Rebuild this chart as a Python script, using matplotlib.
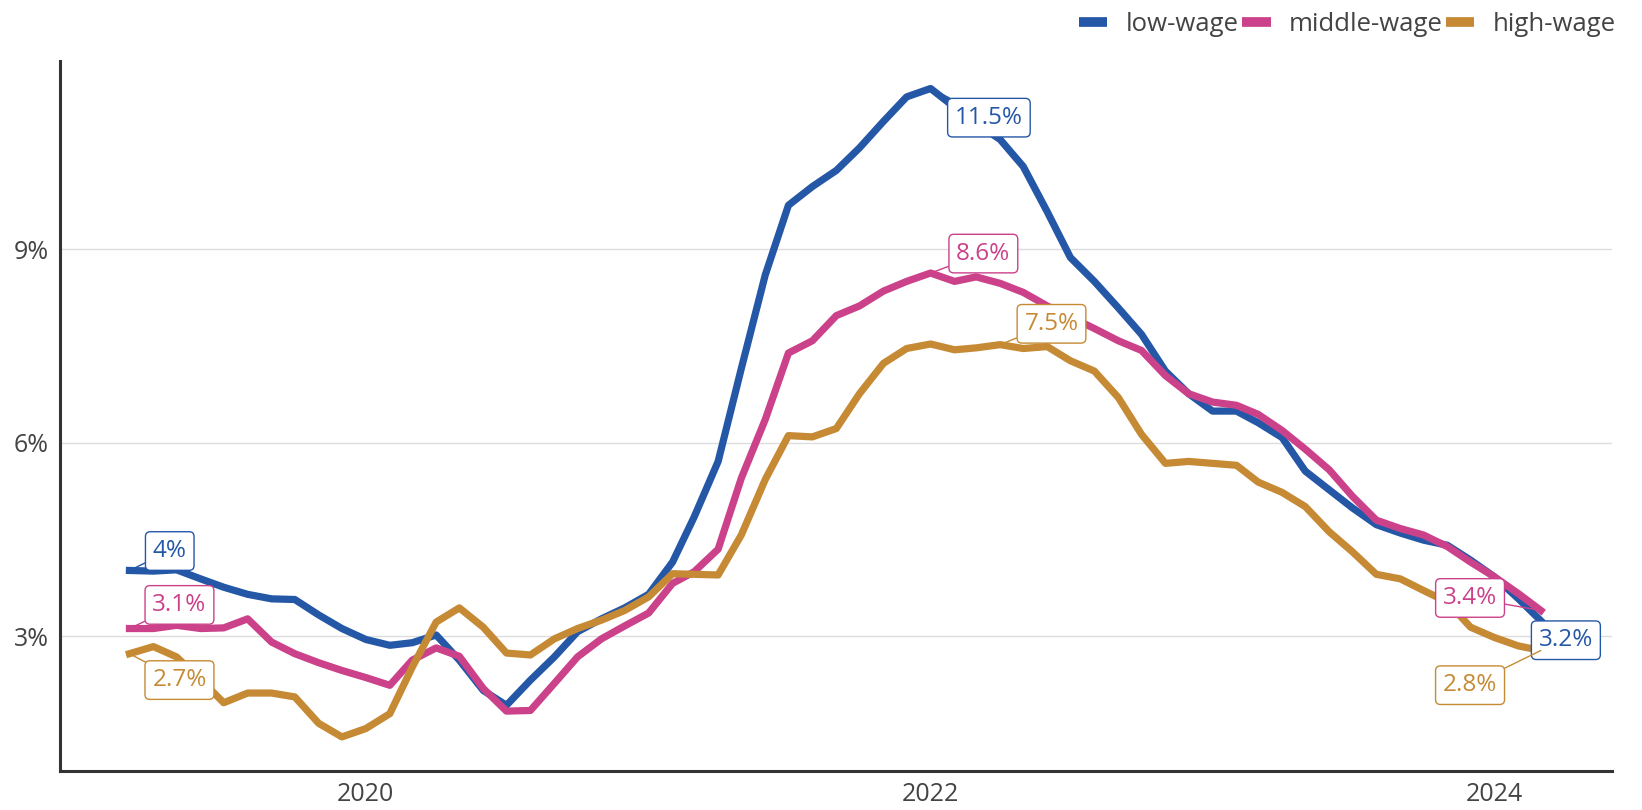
"""Wage growth by wage level, 2019-2024."""

import matplotlib

matplotlib.use("Agg")
import matplotlib.dates as mdates
import matplotlib.pyplot as plt
import pandas as pd

plt.rcParams.update(
    {
        "font.family": ["Open Sans", "DejaVu Sans"],
        "font.size": 18,
        "text.color": "#444444",
        "xtick.color": "#444444",
        "ytick.color": "#444444",
    }
)

months = pd.date_range("2019-03-01", "2024-03-01", freq="MS")

low_wage = [
    4.02, 4.01, 4.03, 3.89, 3.76, 3.65, 3.58, 3.57, 3.33, 3.12, 2.95, 2.86, 2.90,
    3.02, 2.63, 2.16, 1.93, 2.32, 2.68, 3.07, 3.27, 3.44, 3.65, 4.15, 4.85, 5.71,
    7.15, 8.60, 9.68, 9.97, 10.22, 10.57, 10.98, 11.36, 11.49, 11.20, 10.95, 10.70,
    10.28, 9.58, 8.87, 8.50, 8.09, 7.68, 7.11, 6.76, 6.49, 6.49, 6.31, 6.08, 5.56,
    5.27, 4.99, 4.73, 4.60, 4.49, 4.41, 4.18, 3.92, 3.58, 3.24,
]
middle_wage = [
    3.12, 3.12, 3.17, 3.12, 3.13, 3.27, 2.91, 2.73, 2.59, 2.47, 2.36, 2.24, 2.63,
    2.82, 2.69, 2.19, 1.84, 1.85, 2.27, 2.68, 2.96, 3.16, 3.36, 3.82, 4.00, 4.35,
    5.45, 6.36, 7.39, 7.58, 7.97, 8.12, 8.35, 8.50, 8.63, 8.50, 8.57, 8.47, 8.33,
    8.12, 7.95, 7.77, 7.58, 7.43, 7.04, 6.76, 6.63, 6.58, 6.44, 6.19, 5.90, 5.58,
    5.17, 4.80, 4.67, 4.57, 4.39, 4.15, 3.92, 3.66, 3.40,
]
high_wage = [
    2.73, 2.84, 2.68, 2.33, 1.97, 2.12, 2.12, 2.06, 1.65, 1.44, 1.57, 1.80, 2.52,
    3.22, 3.44, 3.14, 2.74, 2.71, 2.96, 3.12, 3.25, 3.40, 3.61, 3.97, 3.96, 3.95,
    4.57, 5.43, 6.11, 6.09, 6.22, 6.76, 7.23, 7.46, 7.53, 7.44, 7.47, 7.52, 7.46,
    7.49, 7.27, 7.11, 6.70, 6.13, 5.68, 5.71, 5.68, 5.65, 5.39, 5.23, 5.01, 4.62,
    4.31, 3.96, 3.89, 3.71, 3.53, 3.14, 2.98, 2.85, 2.78,
]

series = {
    "low-wage": (low_wage, "#2557a7"),
    "middle-wage": (middle_wage, "#cb418a"),
    "high-wage": (high_wage, "#c68a35"),
}

# (series, month index, label, offset in points)
callouts = [
    ("low-wage", 0, "4%", (29, 14)),
    ("middle-wage", 0, "3.1%", (36, 17)),
    ("high-wage", 0, "2.7%", (36, -19)),
    ("low-wage", 34, "11.5%", (42, -21)),
    ("middle-wage", 34, "8.6%", (38, 14)),
    ("high-wage", 37, "7.5%", (37, 15)),
    ("middle-wage", 60, "3.4%", (-51, 9)),
    ("low-wage", 60, "3.2%", (18, -14)),
    ("high-wage", 60, "2.8%", (-51, -25)),
]

fig = plt.figure(figsize=(16.42, 8.10), dpi=100)
ax = fig.add_axes([0.0365, 0.048, 0.9452, 0.877])

for name, (values, color) in series.items():
    ax.plot(months, values, color=color, lw=5.2, label=name, zorder=3)

for name, idx, text, offset in callouts:
    values, color = series[name]
    ax.annotate(
        text,
        xy=(months[idx], values[idx]),
        xytext=offset,
        textcoords="offset points",
        ha="center",
        va="center",
        color=color,
        fontsize=17.5,
        bbox=dict(boxstyle="round,pad=0.3,rounding_size=0.2", fc="white", ec=color, lw=1),
        arrowprops=dict(arrowstyle="-", color=color, lw=1, shrinkA=0, shrinkB=0),
        zorder=5,
    )

ax.set_xlim(pd.Timestamp("2018-12-01"), pd.Timestamp("2024-06-01"))
ax.set_ylim(0.91, 11.92)
ax.set_yticks([3, 6, 9])
ax.set_yticklabels(["3%", "6%", "9%"])
ax.xaxis.set_major_locator(mdates.YearLocator(2))
ax.xaxis.set_major_formatter(mdates.DateFormatter("%Y"))
ax.tick_params(length=0, pad=8)
ax.grid(axis="y", color="#dddddd", lw=1)
ax.set_axisbelow(True)

for side in ("top", "right"):
    ax.spines[side].set_visible(False)
for side in ("left", "bottom"):
    ax.spines[side].set_color("#333333")
    ax.spines[side].set_linewidth(2.2)

leg = fig.legend(
    loc="upper right",
    bbox_to_anchor=(0.998, 1.014),
    ncol=3,
    frameon=False,
    handlelength=1.1,
    handletextpad=0.7,
    columnspacing=0.15,
    fontsize=18.5,
)
for handle in leg.legend_handles:
    handle.set_linewidth(7)
    handle.set_solid_capstyle("butt")

fig.savefig("out.png", dpi=100)
